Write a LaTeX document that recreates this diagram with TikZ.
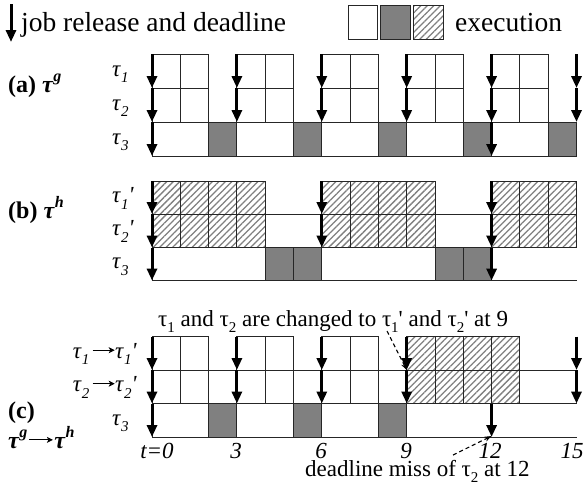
\documentclass[tikz,border=0pt]{standalone}
\usepackage{fontspec}
\setmainfont{Liberation Serif}[Ligatures=TeXOff]
\usetikzlibrary{arrows.meta,patterns.meta}
\newcommand\ssub[1]{\raisebox{-0.3em}{\fontsize{15}{15}\selectfont #1}}
\newcommand\ssup[1]{\raisebox{0.42em}{\fontsize{16}{16}\selectfont #1}}
\newcommand\tl[1]{\textit{τ}\ssub{\textit{#1}}}
\newcommand\larr[1]{\tikz[baseline=-0.34em]{\draw[line width=0.8pt,-{Stealth[length=6pt,width=6pt,inset=1.5pt]}] (0pt,0pt) -- (#1,0pt);}}
\tikzset{
 cellw/.style={draw=black!85, line width=1pt, fill=white},
 cellg/.style={draw=black!85, line width=1pt, fill=black!50},
 cellh/.style={draw=black!85, line width=1pt, pattern={Lines[angle=45,distance=4.6pt,line width=1.3pt]}, pattern color=black!50},
 baseln/.style={draw=black!85, line width=1pt},
 rel/.style={line width=3pt, -{Triangle[width=10pt,length=12pt]}},
 txt/.style={inner sep=0pt, font=\fontsize{23}{27}\selectfont},
 legtxt/.style={inner sep=0pt, font=\fontsize{27.5}{32}\selectfont},
 lbl/.style={inner sep=0pt, font=\fontsize{24}{28}\selectfont\bfseries},
 ann/.style={dash pattern=on 4pt off 3pt, line width=1.1pt, -{Stealth[length=7pt,width=5pt]}},
}
\begin{document}
\begin{tikzpicture}[x=1pt,y=-1pt]
\fill[white] (0,0) rectangle (585,485);
\useasboundingbox (0,0) rectangle (585,485);

% legend
\draw[rel] (11,4) -- (11,42);
\node[legtxt, anchor=base west] (leg1) at (21,31) {job release and deadline};
\draw[cellw] (348,5) rectangle (377,39);
\draw[cellg] (380,5) rectangle (410,39);
\draw[cellh] (413,5) rectangle (443,39);
\node[legtxt, anchor=base west] (leg2) at (455,31) {execution};

\begin{scope}[shift={(152,0)},x=28.3pt]
% ---------- (a)
\foreach \s in {0,1,3,4,6,7,9,10,12,13} {
  \draw[cellw] (\s,54) rectangle ({\s+1},88);
  \draw[cellw] (\s,88) rectangle ({\s+1},122);
}
\foreach \a/\b in {0/2,3/5,6/8,9/11,12/14} \draw[cellw] (\a,122) rectangle (\b,156);
\foreach \s in {2,5,8,11,14} \draw[cellg] (\s,122) rectangle ({\s+1},156);
\foreach \s in {0,3,...,15} {
  \draw[rel] (\s,54) -- (\s,88);
  \draw[rel] (\s,88) -- (\s,122);
}
\draw[rel] (0,122) -- (0,156);
\draw[rel] (12,122) -- (12,156);

% ---------- (b)
\draw[baseln] (0,214) -- (15,214);
\draw[baseln] (0,247.5) -- (15,247.5);
\draw[baseln] (0,280.5) -- (15,280.5);
\foreach \s in {0,1,2,3,6,7,8,9,12,13,14} {
  \draw[cellh] (\s,181) rectangle ({\s+1},214);
  \draw[cellh] (\s,214) rectangle ({\s+1},247.5);
}
\draw[cellw] (0,247.5) rectangle (4,280.5);
\draw[cellw] (6,247.5) rectangle (10,280.5);
\foreach \s in {4,5,10,11} \draw[cellg] (\s,247.5) rectangle ({\s+1},280.5);
\foreach \s in {0,6,12} {
  \draw[rel] (\s,181) -- (\s,214);
  \draw[rel] (\s,214) -- (\s,247.5);
}
\draw[rel] (0,247.5) -- (0,280.5);
\draw[rel] (12,247.5) -- (12,280.5);

% ---------- (c)
\draw[baseln] (0,370) -- (15,370);
\draw[baseln] (0,403.5) -- (15,403.5);
\draw[baseln] (0,437) -- (15,437);
\foreach \s in {0,1,3,4,6,7} {
  \draw[cellw] (\s,336.5) rectangle ({\s+1},370);
  \draw[cellw] (\s,370) rectangle ({\s+1},403.5);
}
\foreach \s in {9,10,11,12} {
  \draw[cellh] (\s,336.5) rectangle ({\s+1},370);
  \draw[cellh] (\s,370) rectangle ({\s+1},403.5);
}
\foreach \a/\b in {0/2,3/5,6/8} \draw[cellw] (\a,403.5) rectangle (\b,437);
\foreach \s in {2,5,8} \draw[cellg] (\s,403.5) rectangle ({\s+1},437);
\foreach \s in {0,3,6,9,15} {
  \draw[rel] (\s,336.5) -- (\s,370);
  \draw[rel] (\s,370) -- (\s,403.5);
}
\draw[rel] (0,403.5) -- (0,437);
\draw[rel] (12,403.5) -- (12,437);
\coordinate (c9) at (9,370);
\coordinate (d12) at (12,436);
\end{scope}

% panel labels
\node[lbl, anchor=base west] (la) at (8,92) {(a) \textit{τ}\ssup{\textit{g}}};
\node[lbl, anchor=base west] (lb) at (8,218) {(b) \textit{τ}\ssup{\textit{h}}};
\node[lbl, anchor=base west] (lc) at (8,418) {(c)};
\node[lbl, anchor=base west] (lc2) at (8,448) {\textit{τ}\ssup{\textit{g}}\hspace{1pt}\larr{24pt}\hspace{1pt}\textit{τ}\ssup{\textit{h}}};

% row labels
\node[txt, anchor=base west] (ra1) at (112,76) {\tl{1}};
\node[txt, anchor=base west] (ra2) at (112,110) {\tl{2}};
\node[txt, anchor=base west] (ra3) at (112,144) {\tl{3}};
\node[txt, anchor=base west] (rb1) at (112,202.5) {\tl{1}\textit{'}};
\node[txt, anchor=base west] (rb2) at (112,235.5) {\tl{2}\textit{'}};
\node[txt, anchor=base west] (rb3) at (112,268.5) {\tl{3}};
\node[txt, anchor=base east] (rc1) at (137,358) {\tl{1}\hspace{3pt}\larr{22pt}\tl{1}\textit{'}};
\node[txt, anchor=base east] (rc2) at (137,391.5) {\tl{2}\hspace{3pt}\larr{22pt}\tl{2}\textit{'}};
\node[txt, anchor=base west] (rc3) at (112,425) {\tl{3}};

% time labels
\node[txt, anchor=base] (t0) at (157,458) {\textit{t=0}};
\node[txt, anchor=base] (t3) at (236,458) {\textit{3}};
\node[txt, anchor=base] (t6) at (321,458) {\textit{6}};
\node[txt, anchor=base] (t9) at (406,458) {\textit{9}};
\node[txt, anchor=base] (t12) at (490,458) {\textit{12}};
\node[txt, anchor=base] (t15) at (572,458) {\textit{15}};

% annotations
\node[txt, anchor=base west] (n1) at (158,326) {τ\ssub{1} and τ\ssub{2} are changed to τ\ssub{1}' and τ\ssub{2}' at 9};
\node[txt, anchor=base west] (n2) at (305,476) {deadline miss of τ\ssub{2} at 12};
\coordinate (s1) at (387,331);
\coordinate (s2) at (453,455);
\draw[ann] (s1) -- (c9);
\draw[ann] (s2) -- (d12);
\end{tikzpicture}
\end{document}
